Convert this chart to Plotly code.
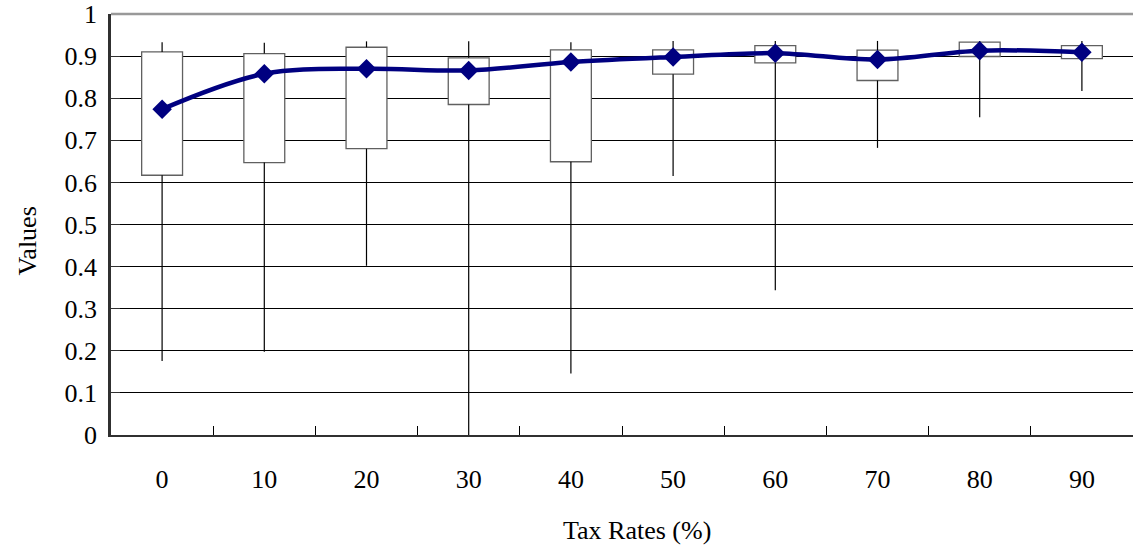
import plotly.graph_objects as go

# Tax-rate categories and summary statistics of the simulated values
tax_rates = ["0", "10", "20", "30", "40", "50", "60", "70", "80", "90"]
minimum = [0.176, 0.198, 0.402, 0.000, 0.146, 0.615, 0.344, 0.682, 0.755, 0.817]
q1 = [0.617, 0.647, 0.680, 0.785, 0.649, 0.857, 0.884, 0.842, 0.899, 0.894]
q3 = [0.910, 0.906, 0.921, 0.896, 0.915, 0.915, 0.925, 0.914, 0.933, 0.925]
maximum = [0.933, 0.932, 0.935, 0.935, 0.933, 0.936, 0.936, 0.936, 0.936, 0.936]
mean = [0.774, 0.858, 0.870, 0.866, 0.886, 0.898, 0.907, 0.892, 0.913, 0.909]

FONT = "Liberation Serif, Times New Roman, serif"
FONT_SIZE = 26

fig = go.Figure()

# Interquartile boxes
fig.add_trace(go.Bar(
    x=tax_rates,
    base=q1,
    y=[b - a for a, b in zip(q1, q3)],
    width=0.4,
    marker=dict(color="white", line=dict(color="#606060", width=1.3)),
    hoverinfo="skip",
    showlegend=False,
))

# Whiskers: upper from Q3 to max, lower from Q1 to min
wx, wy = [], []
for c, lo, a, b, hi in zip(tax_rates, minimum, q1, q3, maximum):
    wx += [c, c, None, c, c, None]
    wy += [b, hi, None, a, lo, None]
fig.add_trace(go.Scatter(
    x=wx, y=wy, mode="lines",
    line=dict(color="black", width=1.2),
    connectgaps=False, hoverinfo="skip", showlegend=False,
))

# Mean values, smoothed line with diamond markers
fig.add_trace(go.Scatter(
    x=tax_rates, y=mean, mode="lines+markers",
    line=dict(color="#000080", width=4.5, shape="spline", smoothing=1.0),
    marker=dict(symbol="diamond", size=15, color="#000080"),
    showlegend=False,
))

fig.update_layout(
    width=1133, height=550,
    margin=dict(l=111, r=0, t=14, b=115),
    paper_bgcolor="white", plot_bgcolor="white",
    barmode="overlay",
    font=dict(family=FONT, size=FONT_SIZE, color="black"),
    xaxis=dict(
        type="category", range=[-0.5, 9.5],
        tickson="boundaries", ticks="inside", ticklen=9, tickwidth=1.2,
        tickcolor="black",
        showline=True, linecolor="#303030", linewidth=2,
        showgrid=False, zeroline=False,
        ticklabelstandoff=20,
        tickfont=dict(family=FONT, size=FONT_SIZE, color="black"),
    ),
    yaxis=dict(
        range=[0, 1], dtick=0.1, tick0=0,
        ticks="inside", ticklen=9, tickwidth=1.2, tickcolor="#303030",
        showline=True, linecolor="#303030", linewidth=2.5,
        showgrid=True, gridcolor="black", gridwidth=1,
        zeroline=False,
        ticklabelstandoff=6,
        tickfont=dict(family=FONT, size=FONT_SIZE, color="black"),
    ),
    shapes=[dict(
        type="line", xref="paper", yref="paper",
        x0=0, x1=1, y0=1, y1=1,
        line=dict(color="#999999", width=2.5), layer="above",
    )],
    annotations=[
        dict(text="Tax Rates (%)", xref="paper", yref="paper",
             x=0.515, y=-0.226, xanchor="center", yanchor="middle",
             showarrow=False, font=dict(family=FONT, size=FONT_SIZE, color="black")),
        dict(text="Values", xref="paper", yref="paper",
             x=-0.082, y=0.46, xanchor="center", yanchor="middle",
             textangle=-90, showarrow=False,
             font=dict(family=FONT, size=FONT_SIZE, color="black")),
    ],
)

fig.write_html("out.html")
